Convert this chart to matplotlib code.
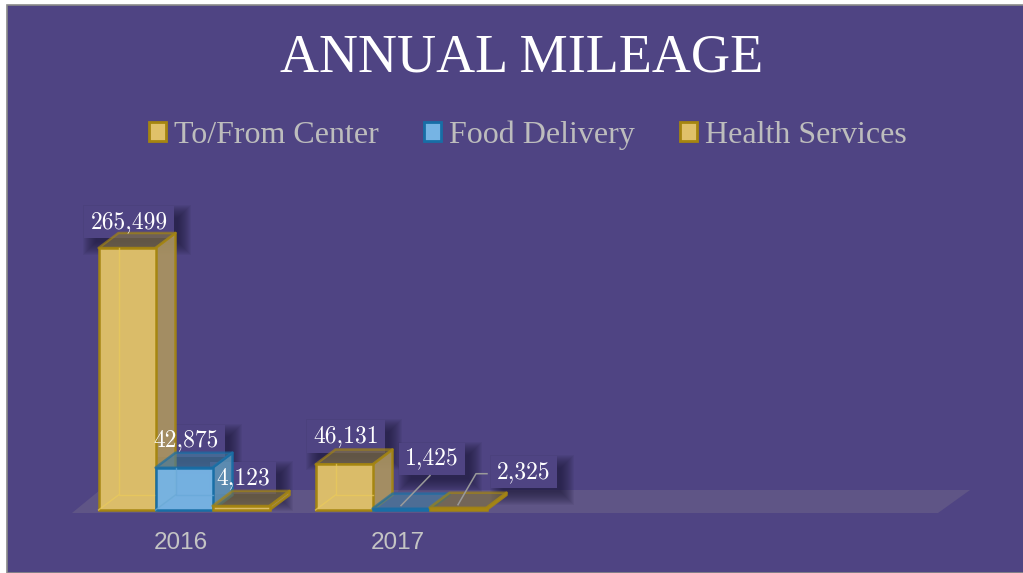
import matplotlib
matplotlib.use("Agg")
import matplotlib.pyplot as plt
from matplotlib.patches import Polygon, Rectangle, Patch
from matplotlib.lines import Line2D
from matplotlib.transforms import IdentityTransform

TITLE = "ANNUAL MILEAGE"
YEARS = ["2016", "2017", "", ""]
SERIES = ["To/From Center", "Food Delivery", "Health Services"]
TO_FROM = [265499, 46131]
FOOD = [42875, 1425]
HEALTH = [4123, 2325]
VALUES = [TO_FROM, FOOD, HEALTH]

BG = "#4F4483"
STYLES = [
    dict(front="#E0C169", side="#AD9660", top="#7F7040", edge="#A58510", inner="#EBCB5A"),
    dict(front="#76B4E4", side="#5E93B6", top="#447A9E", edge="#176EA6", inner="#68A8D8"),
    dict(front="#E0C169", side="#AD9660", top="#7F7040", edge="#A58510", inner="#EBCB5A"),
]
# label offsets from the top centre of each front face, in pixels
OFFSETS = [[(2, 26), (2, 27), (2, 28)], [(2, 28), (31, 50), (66, 36)]]
FONT_LABEL = "cmr10"
FONT_SERIF = "Liberation Serif"

W, H = 1023, 573
fig = plt.figure(figsize=(W / 100, H / 100), dpi=100, facecolor="white")
fig.add_artist(Rectangle((7 / W, 0), 1, 1 - 5 / H, transform=fig.transFigure,
                         facecolor=BG, edgecolor="#8A8A8A", linewidth=1.2, zorder=-1))
ax = fig.add_axes([72 / W, (H - 510) / H, 868 / W, 310 / H])
ax.patch.set_visible(False)
PX = 4 / 868
PY = 265499 / 262
ax.set_xlim(-0.5, 3.5)
ax.set_ylim(0, 310 * PY)
for s in ax.spines.values():
    s.set_visible(False)
ax.set_yticks([])
ax.set_xticks(range(4))
ax.set_xticklabels(YEARS, fontfamily="Liberation Sans", fontsize=17.5, color="#C4C4C4")
ax.tick_params(axis="x", length=0, pad=16)

# floor
ax.add_patch(Polygon([(-0.5, -3 * PY), (3.5 - 2 * PX, -3 * PY),
                      (3.5 + 30 * PX, 20 * PY), (-0.5 + 28 * PX, 20 * PY)],
                     closed=True, facecolor="#5F5586", edgecolor="none", zorder=1, clip_on=False))

bw, dx, dy = 57 * PX, 20 * PX, 15 * PY
shift = 3.5 * PX


def draw_bar(x, v, st, z):
    kw = dict(closed=True, clip_on=False, zorder=z, edgecolor=st["edge"], linewidth=1.8, joinstyle="round")
    ax.add_patch(Polygon([(x + bw, 0), (x + bw + dx, dy), (x + bw + dx, v + dy), (x + bw, v)],
                         facecolor=st["side"], alpha=0.9, **kw))
    ax.add_patch(Polygon([(x, v), (x + dx, v + dy), (x + bw + dx, v + dy), (x + bw, v)],
                         facecolor=st["top"], alpha=0.65, **kw))
    ax.add_patch(Rectangle((x, 0), bw, v, facecolor=st["front"], alpha=0.97, clip_on=False,
                           zorder=z + 0.2, edgecolor=st["edge"], linewidth=1.8))
    # faint back edges seen through the front face of the taller bars
    if v > dy:
        ax.add_line(Line2D([x + dx, x + dx, x + bw], [v, dy, dy], color=st["inner"],
                           alpha=0.7, lw=1.0, zorder=z + 0.3, clip_on=False))
        ax.add_line(Line2D([x, x + dx], [0, dy], color=st["inner"],
                           alpha=0.7, lw=1.0, zorder=z + 0.3, clip_on=False))


labels = []
for g in range(2):
    for s in range(3):
        v = VALUES[s][g]
        x = g - 1.5 * bw + s * bw + shift
        draw_bar(x, v, STYLES[s], 5 + s + g * 5)
        off = OFFSETS[g][s]
        t = ax.annotate(f"{v:,}", xy=(x + bw / 2, v), xytext=off, textcoords="offset pixels",
                        ha="center", va="center", fontfamily=FONT_LABEL, fontsize=17,
                        color="white", zorder=30, annotation_clip=False)
        labels.append(t)

# leader lines for the two thin 2017 bars
for s, pts in ((1, [(29, 33), (0, 3)]), (2, [(29, 34), (18, 34), (0, 3)])):
    x = 1 - 1.5 * bw + s * bw + shift + bw / 2
    v = VALUES[s][1]
    xs = [x + p[0] * PX for p in pts]
    ys = [v + p[1] * PY for p in pts]
    ax.add_line(Line2D(xs, ys, color="#9A9A9A", lw=1.1, zorder=28, clip_on=False))

# label boxes with soft shadows (drawn in display space under the bars)
fig.canvas.draw()
rend = fig.canvas.get_renderer()
for t in labels:
    b = t.get_window_extent(rend)
    x0, y0, w, h = b.x0 - 6, b.y0 - 5, b.width + 12, b.height + 10
    for i in range(14):
        g = 9 - i * 1.0
        ax.add_patch(Rectangle((x0 + 8 - g, y0 - 8 - g), w + 2 * g, h + 2 * g, transform=IdentityTransform(),
                               facecolor="#1E1A3A", alpha=0.07, edgecolor="none", zorder=3, clip_on=False))
    ax.add_patch(Rectangle((x0, y0), w, h, transform=IdentityTransform(), facecolor=BG,
                           edgecolor="none", zorder=4, clip_on=False))

fig.text(522 / W, 1 - 58 / H, TITLE, ha="center", va="center", fontfamily=FONT_SERIF,
         fontsize=39, color="white")

handles = [Patch(facecolor=st["front"], edgecolor=st["edge"], linewidth=2) for st in STYLES]
fig.legend(handles, SERIES, loc="center", bbox_to_anchor=(528 / W, 1 - 135 / H), ncol=3, frameon=False,
           prop={"family": FONT_SERIF, "size": 23}, labelcolor="#BDBDBD", handlelength=0.55,
           handleheight=0.55, handletextpad=0.25, columnspacing=1.4, borderpad=0)

fig.savefig("out.png", dpi=100, facecolor="white")
